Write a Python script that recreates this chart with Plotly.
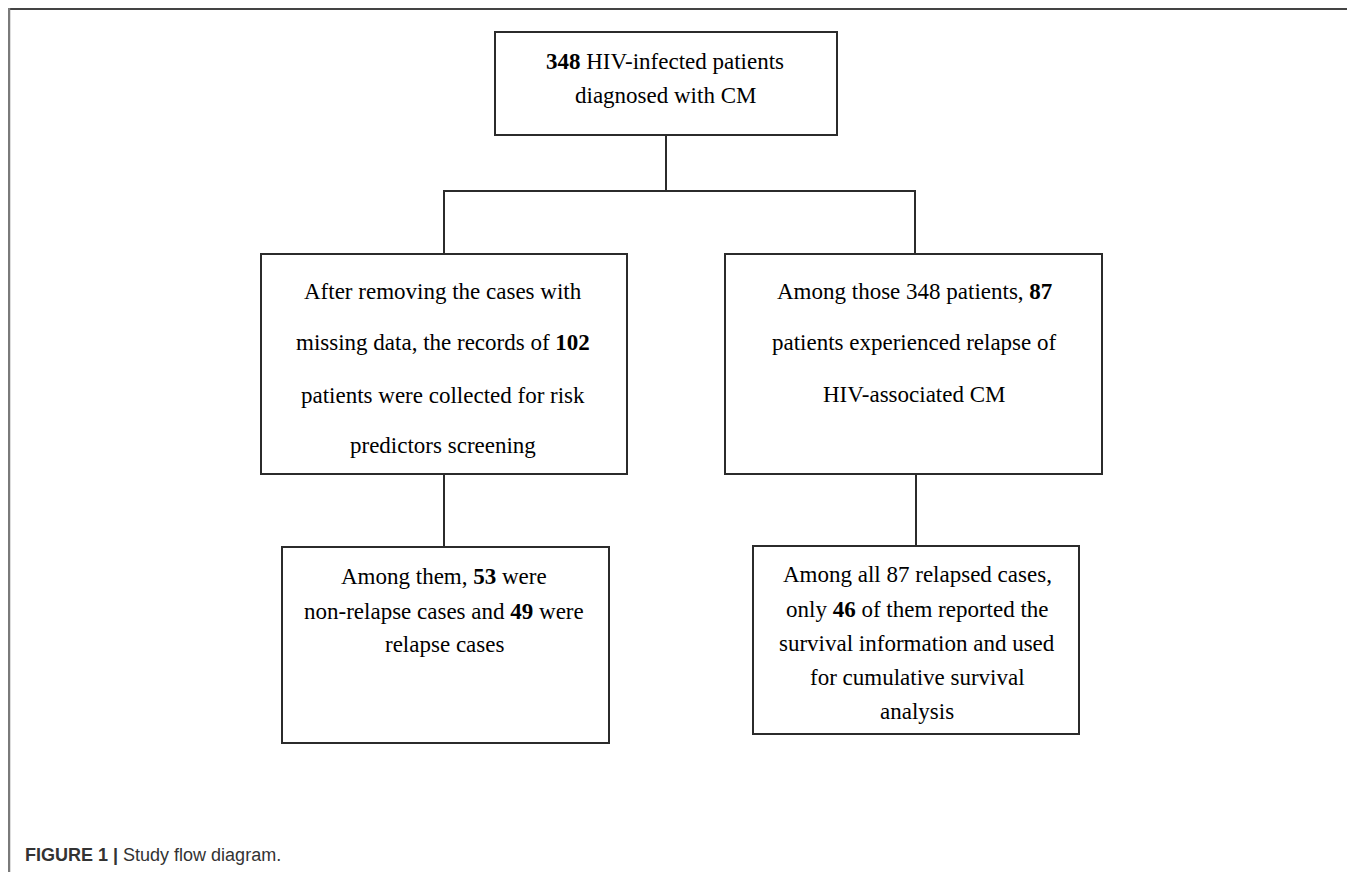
import plotly.graph_objects as go

# ---- data (counts and texts) ----
total_patients = 348
complete_records = 102
relapsed = 87
non_relapse = 53
relapse_cases = 49
with_survival = 46

top_lines = [f"<b>{total_patients}</b> HIV-infected patients", "diagnosed with CM"]
left_mid_lines = [
    "After removing the cases with",
    f"missing data, the records of <b>{complete_records}</b>",
    "patients were collected for risk",
    "predictors screening",
]
right_mid_lines = [
    f"Among those {total_patients} patients, <b>{relapsed}</b>",
    "patients experienced relapse of",
    "HIV-associated CM",
]
left_bot_lines = [
    f"Among them, <b>{non_relapse}</b> were",
    f"non-relapse cases and <b>{relapse_cases}</b> were",
    "relapse cases",
]
right_bot_lines = [
    f"Among all {relapsed} relapsed cases,",
    f"only <b>{with_survival}</b> of them reported the",
    "survival information and used",
    "for cumulative survival",
    "analysis",
]
caption_label = "FIGURE 1 |"
caption_text = "Study flow diagram."

# ---- layout geometry (page pixels) ----
W, H = 1355, 872
PAD = 8  # default page body margin
boxes = {
    "top": (495, 32, 837, 135),
    "lmid": (261, 254, 627, 474),
    "rmid": (725, 254, 1102, 474),
    "lbot": (282, 547, 609, 743),
    "rbot": (753, 546, 1079, 734),
}
text_blocks = [
    (top_lines, 665, [61, 95]),
    (left_mid_lines, 443, [291, 342, 395, 445]),
    (right_mid_lines, 914, [291, 342, 394]),
    (left_bot_lines, 444, [576, 611, 644]),
    (right_bot_lines, 917, [574, 609, 643, 677, 711]),
]

LINE = "#2b2b2b"
fig = go.Figure()
shapes = []
for (x0, y0, x1, y1) in boxes.values():
    shapes.append(dict(type="rect", x0=x0, y0=y0, x1=x1, y1=y1,
                       line=dict(color=LINE, width=2), fillcolor="rgba(0,0,0,0)"))
connectors = [
    (666, 135, 666, 191),
    (443, 191, 916, 191),
    (444, 191, 444, 254),
    (915, 191, 915, 254),
    (444, 474, 444, 547),
    (916, 474, 916, 546),
]
for (x0, y0, x1, y1) in connectors:
    shapes.append(dict(type="line", x0=x0, y0=y0, x1=x1, y1=y1,
                       line=dict(color=LINE, width=2)))
# outer frame (top and left edges)
shapes.append(dict(type="line", x0=8, y0=9, x1=W, y1=9, line=dict(color="#444444", width=2)))
shapes.append(dict(type="line", x0=9, y0=8, x1=9, y1=H, line=dict(color="#7a7a7a", width=2.5)))

annotations = []
for lines, xc, ys in text_blocks:
    for t, y in zip(lines, ys):
        annotations.append(dict(x=xc, y=y, xref="x", yref="y", text=t, showarrow=False,
                                xanchor="center", yanchor="middle",
                                font=dict(family="Liberation Serif", size=23, color="#000000")))
annotations.append(dict(x=23, y=855, xref="x", yref="y", showarrow=False,
                        xanchor="left", yanchor="middle",
                        text=f"<b>{caption_label}</b> {caption_text}",
                        font=dict(family="Liberation Sans", size=18, color="#333333")))

fig.add_trace(go.Scatter(x=[PAD, W], y=[PAD, H], mode="markers",
                         marker=dict(opacity=0), hoverinfo="skip", showlegend=False))
fig.update_layout(
    width=W - PAD, height=H - PAD,
    margin=dict(l=0, r=0, t=0, b=0),
    paper_bgcolor="white", plot_bgcolor="white",
    xaxis=dict(range=[PAD, W], visible=False, fixedrange=True),
    yaxis=dict(range=[H, PAD], visible=False, fixedrange=True),
    shapes=shapes, annotations=annotations, showlegend=False,
)
fig.write_html("out.html", config={"displayModeBar": False})
